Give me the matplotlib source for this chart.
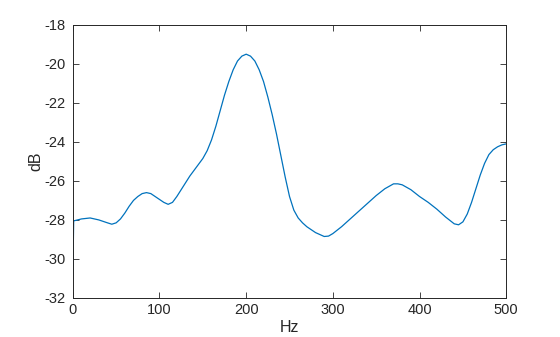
import matplotlib
matplotlib.use("Agg")
import matplotlib.pyplot as plt

freq_hz = [0, 1, 10, 20, 30, 40, 45, 50, 55, 60, 65, 70, 75, 80, 85, 90, 95, 100,
           105, 110, 115, 120, 125, 130, 135, 140, 145, 150, 155, 160, 165, 170,
           175, 180, 185, 190, 195, 200, 205, 210, 215, 220, 225, 230, 235, 240,
           245, 250, 255, 260, 265, 270, 280, 290, 295, 300, 310, 320, 330, 340,
           350, 360, 370, 375, 380, 390, 400, 410, 420, 430, 440, 445, 450, 455,
           460, 465, 470, 475, 480, 485, 490, 495, 500]
level_db = [-31.0, -28.05, -27.95, -27.9, -28.0, -28.15, -28.22, -28.15, -27.95,
            -27.65, -27.3, -27.0, -26.8, -26.65, -26.6, -26.65, -26.8, -26.95,
            -27.1, -27.2, -27.1, -26.8, -26.45, -26.1, -25.75, -25.45, -25.15,
            -24.85, -24.45, -23.9, -23.2, -22.4, -21.6, -20.9, -20.3, -19.85,
            -19.6, -19.5, -19.6, -19.85, -20.3, -20.9, -21.7, -22.6, -23.6, -24.7,
            -25.8, -26.8, -27.5, -27.9, -28.15, -28.35, -28.65, -28.85, -28.83,
            -28.7, -28.35, -27.95, -27.55, -27.15, -26.75, -26.4, -26.15, -26.15,
            -26.2, -26.45, -26.8, -27.1, -27.45, -27.85, -28.2, -28.25, -28.1,
            -27.7, -27.1, -26.4, -25.7, -25.1, -24.65, -24.4, -24.25, -24.15, -24.1]

x_ticks = [0, 100, 200, 300, 400, 500]
y_ticks = [-32, -30, -28, -26, -24, -22, -20, -18]

plt.rcParams['font.family'] = ['Liberation Sans', 'DejaVu Sans']
plt.rcParams['axes.unicode_minus'] = False

fig = plt.figure(figsize=(5.6, 3.37), dpi=100)
ax = fig.add_axes([0.13, 0.116, 0.774, 0.810])
ax.plot(freq_hz, level_db, color='#0072BD', lw=0.9)
ax.set_xlim(0, 500)
ax.set_ylim(-32, -18)
ax.set_xticks(x_ticks)
ax.set_yticks(y_ticks)
ax.tick_params(direction='in', length=4, width=0.6, labelsize=10.5,
               top=True, right=True, colors='#262626')
ax.tick_params(axis='y', pad=5)
for s in ax.spines.values():
    s.set_linewidth(0.7)
    s.set_color('#262626')
ax.set_xlabel('Hz', fontsize=11.5, color='#262626', labelpad=2)
ax.set_ylabel('dB', fontsize=11.5, color='#262626', labelpad=1)
fig.savefig('out.png', dpi=100)
